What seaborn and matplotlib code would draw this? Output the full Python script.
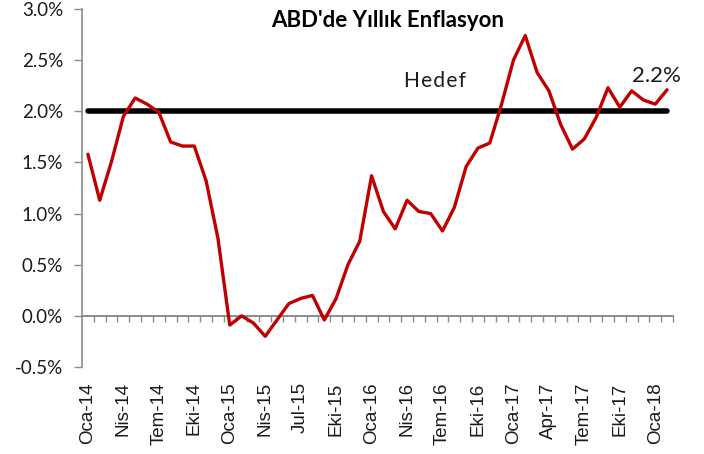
import matplotlib.pyplot as plt
import numpy as np
import pandas as pd
import seaborn as sns

# monthly annual CPI inflation, Oca-14 .. Şub-18 (%)
months = [
    "Oca-14", "Şub-14", "Mar-14", "Nis-14", "May-14", "Haz-14", "Tem-14", "Ağu-14", "Eyl-14", "Eki-14", "Kas-14", "Ara-14",
    "Oca-15", "Şub-15", "Mar-15", "Nis-15", "May-15", "Haz-15", "Jul-15", "Ağu-15", "Eyl-15", "Eki-15", "Kas-15", "Ara-15",
    "Oca-16", "Şub-16", "Mar-16", "Nis-16", "May-16", "Haz-16", "Tem-16", "Ağu-16", "Eyl-16", "Eki-16", "Kas-16", "Ara-16",
    "Oca-17", "Şub-17", "Mar-17", "Apr-17", "May-17", "Haz-17", "Tem-17", "Ağu-17", "Eyl-17", "Eki-17", "Kas-17", "Ara-17",
    "Oca-18", "Şub-18",
]
inflation = [
    1.58, 1.13, 1.51, 1.95, 2.13, 2.07, 1.99, 1.70, 1.66, 1.66, 1.32, 0.76,
    -0.09, 0.00, -0.07, -0.20, -0.04, 0.12, 0.17, 0.20, -0.04, 0.17, 0.50, 0.73,
    1.37, 1.02, 0.85, 1.13, 1.02, 1.00, 0.83, 1.06, 1.46, 1.64, 1.69, 2.07,
    2.50, 2.74, 2.38, 2.20, 1.87, 1.63, 1.73, 1.94, 2.23, 2.04, 2.20, 2.11,
    2.07, 2.21,
]
target = 2.0
yticks = [-0.5, 0.0, 0.5, 1.0, 1.5, 2.0, 2.5, 3.0]

df = pd.DataFrame({"idx": np.arange(len(months)), "month": months, "value": inflation})

sns.set_style("white")
plt.rcParams["font.family"] = ["Lato", "DejaVu Sans"]

fig = plt.figure(figsize=(7.04, 4.54), dpi=100)
ax = fig.add_axes([82 / 704, 1 - 367 / 454, 591 / 704, 358 / 454])

n = len(months)
ax.plot([0, n - 1], [target, target], color="black", lw=4, solid_capstyle="round", zorder=2)
sns.lineplot(data=df, x="idx", y="value", color="#C00000", lw=2.4, ax=ax, zorder=3)

ax.set_xlim(-0.5, n - 0.5)
ax.set_ylim(-0.5, 3.0)
ax.set_xlabel("")
ax.set_ylabel("")

grey = "#8c8c8c"
ax.set_yticks(yticks)
ax.set_yticklabels([f"{v:.1f}%" for v in yticks], fontsize=13.5, color="#1a1a1a")
ax.tick_params(axis="y", direction="out", length=5.5, width=1, color=grey, pad=8, left=True)

label_idx = list(range(0, n, 3))
ax.set_xticks(label_idx)
ax.set_xticklabels([months[i] for i in label_idx], rotation=90, fontsize=13.5,
                   family=["Liberation Sans", "DejaVu Sans"], color="#1a1a1a")
ax.tick_params(axis="x", length=0, pad=11)

for side in ["top", "right", "bottom"]:
    ax.spines[side].set_visible(False)
ax.spines["left"].set_color(grey)
ax.spines["left"].set_linewidth(1.2)

# zero line with category ticks
zero = ax.secondary_xaxis(0, transform=ax.transData)
zero.set_xticks(np.arange(0.5, n, 1.0))
zero.tick_params(axis="x", direction="out", length=4, width=1, color=grey, labelbottom=False)
zero.spines["bottom"].set_color(grey)
zero.spines["bottom"].set_linewidth(1.4)

ax.text(0.517, 0.968, "ABD'de Yıllık Enflasyon", transform=ax.transAxes, ha="center", va="center",
        fontsize=16, fontweight="bold", color="black")
# letter-spaced like the original
ax.text(29.4, 2.2, "\u200a".join("Hedef"), ha="center", va="bottom", fontsize=15, color="#1a1a1a")
ax.text(48.1, 2.25, f"{inflation[-1]:.1f}%", ha="center", va="bottom", fontsize=16, color="#1a1a1a")

fig.savefig("out.png", dpi=100)
